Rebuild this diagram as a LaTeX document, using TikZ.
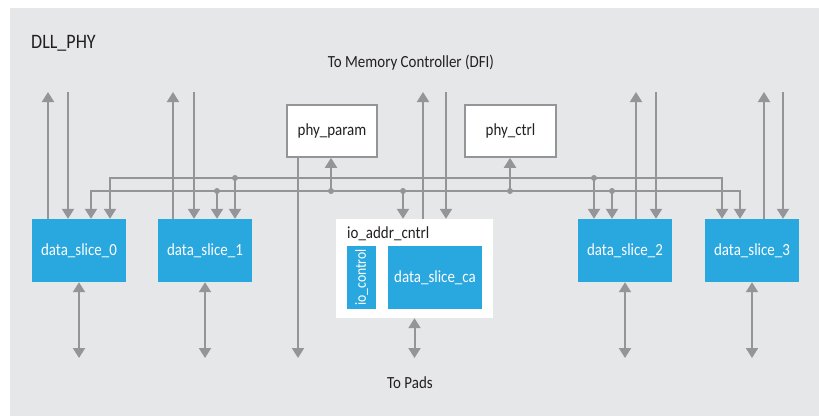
\documentclass[tikz,border=0pt]{standalone}
\usepackage{fontspec}
\setmainfont[FakeStretch=0.88]{Carlito}
\usetikzlibrary{arrows.meta}
\definecolor{bg}{HTML}{E6E7E9}
\definecolor{ln}{HTML}{939598}
\definecolor{blu}{HTML}{29A7DF}
\definecolor{txt}{HTML}{231F20}
\begin{document}
\begin{tikzpicture}[x=1pt,y=-1pt,
  wire/.style={draw=ln, line width=2pt},
  arr/.style={wire,-{Triangle[width=12pt,length=10pt]}},
  darr/.style={wire,{Triangle[width=12pt,length=10pt]}-{Triangle[width=12pt,length=10pt]}},
  blk/.style={fill=blu, text=white, inner sep=0pt, font=\fontsize{17}{19}\selectfont},
  wbox/.style={fill=white, draw=ln, line width=1.6pt, inner sep=0pt, text=txt, font=\fontsize{17}{19}\selectfont},
  dot/.style={circle, fill=ln, inner sep=0pt, minimum size=6pt},
  lbl/.style={text=txt, inner sep=0pt, font=\fontsize{17}{19}\selectfont}
]
\useasboundingbox (0,0) rectangle (819,416);
\fill[white] (0,0) rectangle (819,416);
\fill[bg] (10,8) rectangle (819,416);

\node[lbl, anchor=west, font=\fontsize{20.5}{22}\selectfont] (title) at (31,43) {DLL\_PHY};
\node[lbl] (tomc) at (411,63) {To Memory Controller (DFI)};
\node[lbl] (topads) at (410,383) {To Pads};

% blocks
\node[blk, minimum width=94pt, minimum height=63pt] (ds0) at (79,250.5) {data\_slice\_0};
\node[blk, minimum width=94pt, minimum height=63pt] (ds1) at (205,250.5) {data\_slice\_1};
\node[blk, minimum width=94pt, minimum height=63pt] (ds2) at (625,250.5) {data\_slice\_2};
\node[blk, minimum width=94pt, minimum height=63pt] (ds3) at (752,250.5) {data\_slice\_3};
\node[fill=white, minimum width=157pt, minimum height=99pt, inner sep=0pt] (io) at (414.5,268.5) {};
\node[lbl, anchor=west] (iolbl) at (347,234) {io\_addr\_cntrl};
\node[blk, minimum width=29pt, minimum height=63pt, font=\fontsize{15.5}{17}\selectfont] (ioc) at (361.5,277.5) {\rotatebox{90}{io\_control}};
\node[blk, minimum width=94pt, minimum height=63pt] (dsca) at (435,277.5) {data\_slice\_ca};
\node[wbox, minimum width=90pt, minimum height=52pt] (pp) at (332,131) {phy\_param};
\node[wbox, minimum width=91pt, minimum height=52pt] (pc) at (510.5,131) {phy\_ctrl};

% coordinates
\coordinate (L0) at (91,191);
\coordinate (L3) at (740,191);
\coordinate (U0) at (110,178);
\coordinate (U3) at (722,178);
\coordinate (top) at (0,92);
\coordinate (bot) at (0,358);

% buses
\draw[darr] (L0 |- ds0.north) -- (L0) -- (L3) -- (L3 |- ds3.north);
\draw[darr] (U0 |- ds0.north) -- (U0) -- (U3) -- (U3 |- ds3.north);

% dots
\node[dot] (d1) at (217,191) {};
\node[dot] (d2) at (235,178) {};
\node[dot] (d3) at (331,191) {};
\node[dot] (d4) at (403,191) {};
\node[dot] (d5) at (510,191) {};
\node[dot] (d6) at (594,178) {};
\node[dot] (d7) at (612,191) {};

\draw[arr] (d1.center) -- (d1 |- ds1.north);
\draw[arr] (d2.center) -- (d2 |- ds1.north);
\draw[arr] (d3.center) -- (d3 |- pp.south);
\draw[arr] (d4.center) -- (d4 |- io.north);
\draw[arr] (d5.center) -- (d5 |- pc.south);
\draw[arr] (d6.center) -- (d6 |- ds2.north);
\draw[arr] (d7.center) -- (d7 |- ds2.north);

% vertical up / down to memory controller
\coordinate (u0) at (48,92);
\coordinate (w0) at (68,92);
\coordinate (u1) at (173,92);
\coordinate (w1) at (194,92);
\coordinate (u2) at (423,92);
\coordinate (w2) at (446,92);
\coordinate (u3) at (636,92);
\coordinate (w3) at (656,92);
\coordinate (u4) at (764,92);
\coordinate (w4) at (783,92);

\draw[arr] (u0 |- ds0.north) -- (u0);
\draw[arr] (w0) -- (w0 |- ds0.north);
\draw[arr] (u1 |- ds1.north) -- (u1);
\draw[arr] (w1) -- (w1 |- ds1.north);
\draw[arr] (u2 |- io.north) -- (u2);
\draw[arr] (w2) -- (w2 |- io.north);
\draw[arr] (u3 |- ds2.north) -- (u3);
\draw[arr] (w3) -- (w3 |- ds2.north);
\draw[arr] (u4 |- ds3.north) -- (u4);
\draw[arr] (w4) -- (w4 |- ds3.north);

% to pads
\coordinate (ppx) at (298,0);
\draw[arr] (ppx |- pp.south) -- (ppx |- bot);
\draw[darr] (ds0.south) -- (ds0.south |- bot);
\draw[darr] (ds1.south) -- (ds1.south |- bot);
\draw[darr] (io.south) -- (io.south |- bot);
\draw[darr] (ds2.south) -- (ds2.south |- bot);
\draw[darr] (ds3.south) -- (ds3.south |- bot);
\end{tikzpicture}
\end{document}
